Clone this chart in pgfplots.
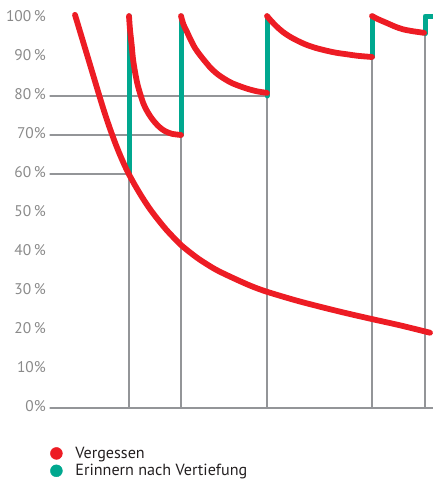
\documentclass[border=0pt]{standalone}
\usepackage{pgfplots}
\pgfplotsset{compat=1.18}
\usepackage{fontspec}
\setmainfont{PT Sans}
\definecolor{fred}{HTML}{ED1C24}
\definecolor{fgreen}{HTML}{00A88F}
\definecolor{lgray}{HTML}{939598}
\definecolor{tgray}{HTML}{8A8A8A}
\definecolor{ltext}{HTML}{231F20}
\begin{document}
\begin{tikzpicture}
\useasboundingbox (0,0) rectangle (433bp,479bp);
\begin{axis}[
  at={(50bp,71bp)}, anchor=origin,
  scale only axis, width=383bp, height=390bp,
  xmin=50, xmax=433, ymin=0, ymax=100,
  clip=false,
  axis line style={draw=none},
  tick style={draw=none},
  xtick=\empty,
  ytick={0,10,...,100},
  yticklabels={0\%,10\%,20\,\%,30\,\%,40\,\%,50\,\%,60\,\%,70\%,80\,\%,90\,\%,100\,\%},
  yticklabel style={font=\fontsize{15.5}{18}\selectfont, text=tgray, anchor=east, inner sep=0pt, xshift=-4bp, yshift=1.5bp},
  legend style={at={(axis description cs:0.0,-0.097)}, anchor=north west, draw=none, fill=none,
    inner sep=0pt, row sep=2.5bp, font=\fontsize{16.2}{18}\selectfont, text=ltext,
    nodes={inner sep=1bp, anchor=west}},
  legend cell align=left,
  every axis plot/.append style={line cap=round, line join=round},
]
% gray guide lines
\addplot[forget plot, lgray, line width=1.3bp] coordinates {(50,0) (433,0)};
\addplot[forget plot, lgray, line width=1.3bp] coordinates {(50,60) (129,60)};
\addplot[forget plot, lgray, line width=1.3bp] coordinates {(50,70) (181,70)};
\addplot[forget plot, lgray, line width=1.3bp] coordinates {(50,80) (267,80)};
\addplot[forget plot, lgray, line width=1.3bp] coordinates {(129,0) (129,60)};
\addplot[forget plot, lgray, line width=1.3bp] coordinates {(181,0) (181,70)};
\addplot[forget plot, lgray, line width=1.3bp] coordinates {(267,0) (267,80)};
\addplot[forget plot, lgray, line width=1.3bp] coordinates {(372,0) (372,90)};
\addplot[forget plot, lgray, line width=1.3bp] coordinates {(425,0) (425,96)};
% green: remembering after review
\addplot[forget plot, fgreen, line width=5bp] coordinates {(129,60) (129,100.5)};
\addplot[forget plot, fgreen, line width=5bp] coordinates {(181,70) (181,100.5)};
\addplot[forget plot, fgreen, line width=5bp] coordinates {(267,80) (267,100.5)};
\addplot[forget plot, fgreen, line width=5bp] coordinates {(372,90) (372,100.5)};
\addplot[forget plot, fgreen, line width=5bp] coordinates {(425,96) (425,100.5) (433,100.5)};
% red: forgetting
\addplot[forget plot, fred, line width=5.8bp, smooth] coordinates {
(75,100.8) (87,90.6) (100,79.5) (105,75.4) (110,71.6) (115,68.1) (120,64.9) (125,62.0) (129,59.9)
(135,57.1) (142,54.1) (150,51.0) (158,48.3) (166,45.8) (174,43.6) (181,41.8) (190,39.9) (200,38.0)
(215,35.6) (230,33.7) (250,31.4) (267,29.8) (300,27.3) (340,24.7) (372,22.8) (400,21.2) (430,19.3)};
\addplot[forget plot, fred, line width=5.8bp, smooth] coordinates {
(129,100.5) (130,97) (131.7,93) (133,89.5) (135,86.2) (137.5,83) (140.5,80.3) (143.5,78) (146.7,76.3)
(150.5,74.7) (155,73.2) (160,71.9) (165,71) (172,70.3) (181,70)};
\addplot[forget plot, fred, line width=5.8bp, smooth] coordinates {
(181,100.5) (183.5,98.3) (186.7,96.6) (190.5,94.5) (195,92.3) (200,90.5) (205,88.9) (211,87.1)
(218,85.5) (225,84.3) (232,83.3) (240,82.5) (248,81.8) (257,81.2) (267,80.8)};
\addplot[forget plot, fred, line width=5.8bp, smooth] coordinates {
(267,100.5) (271,99.3) (276.7,97.8) (283,96.4) (290,95.2) (298,94.1) (306.7,93.1) (316,92.3)
(326.7,91.6) (336,91.1) (346.7,90.7) (358,90.3) (372,90)};
\addplot[forget plot, fred, line width=5.8bp, smooth] coordinates {
(372,100.5) (378,99.7) (387,98.7) (395,97.8) (403,97.1) (413,96.6) (424,96.2)};
% legend
\addlegendimage{legend image code/.code={\path[draw=none,fill=none] (0bp,0bp) -- (24bp,0bp); \fill[fred] (6bp,0bp) circle (6bp);}}
\addlegendentry{Vergessen}
\addlegendimage{legend image code/.code={\path[draw=none,fill=none] (0bp,0bp) -- (24bp,0bp); \fill[fgreen] (6bp,0bp) circle (6bp);}}
\addlegendentry{Erinnern nach Vertiefung}
\end{axis}
\end{tikzpicture}
\end{document}
